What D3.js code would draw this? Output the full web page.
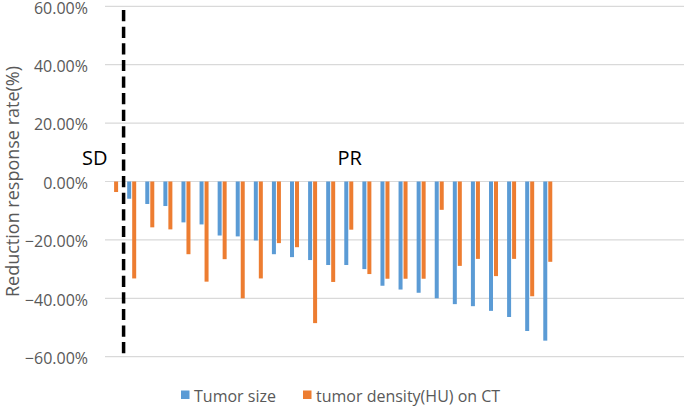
<!DOCTYPE html>
<html>
<head>
<meta charset="utf-8">
<script src="https://cdn.jsdelivr.net/npm/d3@7/dist/d3.min.js"></script>
<style>
  html, body { margin: 0; padding: 0; background: #fff; }
  svg { display: block; }
  text { font-family: "Open Sans", "Noto Sans", sans-serif; }
</style>
</head>
<body>
<svg id="chart" width="685" height="407"></svg>
<script>
// ---- data ----
const categories = ["1","2","3","4","5","6","7","8","9","10","11","12","13","14","15","16",
  "17","18","19","20","21","22","23","24","25","26","27","28","29","30","31","32"];
const tumorSize = [0, -5.9, -7.7, -8.4, -14.0, -14.7, -18.5, -18.8, -20.2, -24.9, -25.9, -26.9,
  -28.6, -28.6, -30.0, -35.7, -37.0, -38.1, -40.0, -42.0, -42.7, -44.3, -46.4, -51.2, -54.5];
const tumorDensity = [-3.6, -33.2, -15.7, -16.4, -24.9, -34.3, -26.6, -40.0, -33.2, -21.1, -22.5, -48.5,
  -34.4, -16.5, -31.7, -33.3, -33.3, -33.3, -9.7, -28.9, -26.5, -32.4, -26.5, -39.3, -27.5];
const seriesNames = ["Tumor size", "tumor density(HU) on CT"];
const yTicks = [60, 40, 20, 0, -20, -40, -60];
const yTitle = "Reduction response rate(%)";
const regionLabels = [{text: "SD", cat: "1", value: 5.8, anchor: "end"},
                      {text: "PR", cat: "14", value: 5.6, anchor: "middle"}];
const dividerCat = "2";

// ---- layout ----
const colors = ["#5B9BD5", "#ED7D31"];
const svg = d3.select("#chart");
const x = d3.scaleBand().domain(categories).range([105.5, 684.4]).padding(0);
const xi = d3.scaleBand().domain([0, 1]).range([3.6, 12.6]).paddingInner(0.2);
const y = d3.scaleLinear().domain([-60, 60]).range([356.7, 6.3]);

// gridlines
svg.append("g").selectAll("line").data(yTicks).join("line")
  .attr("x1", 105).attr("x2", 684)
  .attr("y1", d => y(d)).attr("y2", d => y(d))
  .attr("stroke", "#d9d9d9").attr("stroke-width", 1.2);

// y axis labels
const yAxis = d3.axisLeft(y).tickValues(yTicks).tickSize(0).tickPadding(0)
  .tickFormat(d => d3.format(".2f")(d) + "%");
const ga = svg.append("g").attr("transform", "translate(88,0)").call(yAxis);
ga.select(".domain").remove();
ga.selectAll("text").attr("fill", "#595959").style("font-size", "16px")
  .attr("dy", "0.42em")
  .style("font-family", "'Open Sans', sans-serif");

// axis title
svg.append("text")
  .attr("transform", `translate(19,${y(0)}) rotate(-90)`)
  .attr("text-anchor", "middle")
  .attr("fill", "#595959").style("font-size", "18px")
  .text(yTitle);

// bars
const rows = tumorSize.map((v, i) => ({cat: categories[i], vals: [v, tumorDensity[i]]}));
const groups = svg.append("g").selectAll("g").data(rows).join("g")
  .attr("transform", d => `translate(${x(d.cat)},0)`);
groups.selectAll("rect").data(d => d.vals.map((v, k) => ({k, v}))).join("rect")
  .attr("x", d => xi(d.k))
  .attr("width", xi.bandwidth())
  .attr("y", d => Math.min(y(0), y(d.v)))
  .attr("height", d => Math.abs(y(d.v) - y(0)))
  .attr("fill", d => colors[d.k]);

// dashed divider
svg.append("line")
  .attr("x1", x(dividerCat)).attr("x2", x(dividerCat))
  .attr("y1", y(58.7)).attr("y2", y(-58.9))
  .attr("stroke", "#000").attr("stroke-width", 3.5)
  .attr("stroke-dasharray", "11.2,5.4");

// region labels
svg.append("g").selectAll("text").data(regionLabels).join("text")
  .attr("x", d => d.anchor === "end" ? x(d.cat) + 2 : x(d.cat) + x.bandwidth() / 2)
  .attr("y", d => y(d.value))
  .attr("text-anchor", d => d.anchor)
  .attr("fill", "#000").style("font-size", "20px")
  .text(d => d.text);

// legend
const legendX = [181, 303];
const lg = svg.append("g").selectAll("g").data(seriesNames).join("g")
  .attr("transform", (d, i) => `translate(${legendX[i]},0)`);
lg.append("rect").attr("x", 0).attr("y", 390.5).attr("width", 8.5).attr("height", 8.5)
  .attr("fill", (d, i) => colors[i]);
lg.append("text").attr("x", 13).attr("y", 401.5)
  .attr("fill", "#595959").style("font-size", "16px").text(d => d);
</script>
</body>
</html>
